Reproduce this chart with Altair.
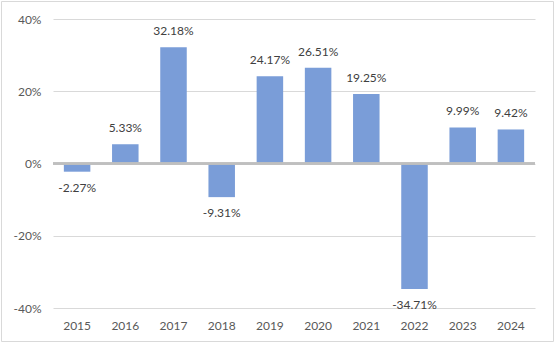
import altair as alt
import pandas as pd

years = ["2015", "2016", "2017", "2018", "2019", "2020", "2021", "2022", "2023", "2024"]
returns = [-0.0227, 0.0533, 0.3218, -0.0931, 0.2417, 0.2651, 0.1925, -0.3471, 0.0999, 0.0942]
y_ticks = [-0.4, -0.2, 0.0, 0.2, 0.4]

df = pd.DataFrame({"year": years, "ret": returns})

W, H = 482, 289
FONT = "Lato"

x = alt.X("year:N", sort=years, title=None,
          scale=alt.Scale(paddingInner=0.45, paddingOuter=0.225),
          axis=alt.Axis(labelAngle=0, domain=False, ticks=False, labelPadding=12,
                        labelFont=FONT, labelFontSize=12, labelColor="#595959"))
y = alt.Y("ret:Q", title=None,
          scale=alt.Scale(domain=[-0.4, 0.4], nice=False),
          axis=alt.Axis(values=y_ticks, format=".0%", domain=False, ticks=False,
                        labelExpr="replace(datum.label, '\u2212', '-')",
                        labelPadding=12, grid=True, gridColor="#d9d9d9",
                        labelFont=FONT, labelFontSize=12, labelColor="#595959"))

base = alt.Chart(df).transform_calculate(
    lbl="replace(format(datum.ret, '.2%'), '\u2212', '-')"
)

bars = base.mark_bar(color="#7a9dd8").encode(x=x, y=y, y2=alt.datum(0))

zero = base.mark_rule(color="#bfbfbf", strokeWidth=1.5).encode(y=alt.datum(0))

pos = base.transform_filter("datum.ret >= 0").mark_text(
    dy=-16, font=FONT, fontSize=12, color="#404040", baseline="middle"
).encode(x=alt.X("year:N", sort=years), y=alt.Y("ret:Q"), text="lbl:N")

neg = base.transform_filter("datum.ret < 0").mark_text(
    dy=16, font=FONT, fontSize=12, color="#404040", baseline="middle"
).encode(x=alt.X("year:N", sort=years), y=alt.Y("ret:Q"), text="lbl:N")

border = alt.Chart(pd.DataFrame({"a": [0]})).mark_rect(
    fill=None, stroke="#d9d9d9", strokeWidth=1
).encode(x=alt.value(-51.5), x2=alt.value(W + 18.5), y=alt.value(-17.5), y2=alt.value(H + 33.5))

chart = alt.layer(bars, zero, pos, neg, border).properties(
    width=W, height=H,
    padding={"left": 53, "top": 19, "right": 20, "bottom": 37},
    autosize=alt.AutoSizeParams(type="none"),
    background="white",
).configure_view(stroke=None)

chart.save("out.html", embed_options={"renderer": "svg", "actions": False})
